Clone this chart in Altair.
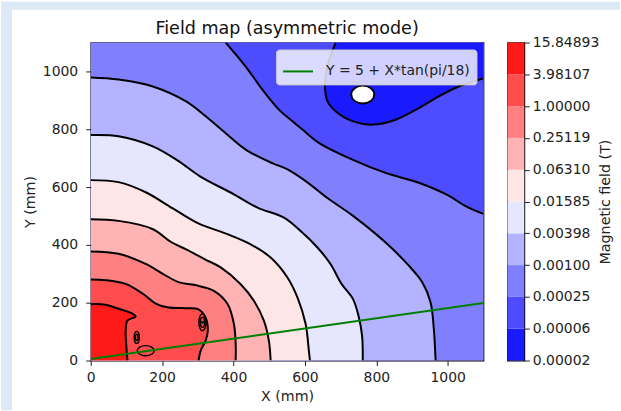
import json
import altair as alt
import pandas as pd

TITLE = "Field map (asymmetric mode)"
X_TITLE = "X (mm)"
Y_TITLE = "Y (mm)"
CB_TITLE = "Magnetic field (T)"
LINE_LABEL = "Y = 5 + X*tan(pi/18)"

x_domain = [0, 1100]
y_domain = [0, 1100]
x_ticks = [0, 200, 400, 600, 800, 1000]
y_ticks = [0, 200, 400, 600, 800, 1000]

level_labels = ["0.00002", "0.00006", "0.00025", "0.00100", "0.00398", "0.01585",
                "0.06310", "0.25119", "1.00000", "3.98107", "15.84893"]
band_colors = ["#1a1aff", "#4d4dff", "#8080ff", "#b3b3ff", "#e6e6ff",
               "#ffe6e6", "#ffb3b3", "#ff8080", "#ff4d4d", "#ff1a1a"]

# contour lines (mm), each from one plot edge to another
c1_x = [686, 668, 659, 656, 662, 686, 733, 789, 854, 919, 975, 1031, 1087, 1100]
c1_y = [1100, 1040, 995, 955, 900, 862, 828, 816, 833, 873, 914, 948, 971, 976]
c2_x = [378, 434, 481, 527, 560, 593, 639, 733, 826, 919, 1000, 1050, 1100]
c2_y = [1100, 1017, 937, 868, 833, 799, 753, 695, 649, 615, 572, 534, 507]
c3_x = [0, 78, 174, 266, 322, 378, 436, 510, 550, 605, 663, 733, 826, 891, 929, 952, 961, 966]
c3_y = [979, 972, 948, 897, 845, 786, 728, 682, 662, 618, 562, 502, 408, 328, 270, 201, 109, 0]
c4_x = [0, 78, 174, 246, 305, 401, 467, 541, 588, 635, 672, 702, 734, 750, 760, 762]
c4_y = [780, 776, 741, 690, 638, 575, 529, 494, 448, 391, 333, 266, 214, 155, 86, 0]
c5_x = [0, 78, 154, 230, 300, 383, 448, 504, 551, 579, 602, 611, 614]
c5_y = [624, 617, 582, 526, 475, 437, 402, 356, 287, 218, 126, 34, 0]
c6_x = [0, 78, 173, 225, 266, 320, 364, 420, 457, 485, 499, 504]
c6_y = [489, 483, 455, 410, 385, 350, 322, 264, 207, 138, 69, 0]
c7_x = [0, 78, 154, 202, 246, 292, 345, 383, 401, 406, 406]
c7_y = [377, 369, 334, 300, 271, 261, 241, 196, 127, 58, 0]
c8_x = [0, 42, 98, 146, 182, 218, 266, 302, 322, 328, 322, 308, 302]
c8_y = [280, 278, 265, 231, 197, 183, 181, 177, 148, 103, 69, 34, 0]
c9_x = [0, 42, 78, 117, 126, 103, 98, 100, 103]
c9_y = [195, 193, 179, 162, 152, 138, 103, 46, 0]

# the lowest band (around the minimum) read as left / right edges per height
c1_band_y = [816, 828, 862, 900, 955, 976, 995, 1040, 1100]
c1_band_left = [789, 733, 686, 662, 656, 657, 659, 668, 686]
c1_band_right = [789, 840, 905, 958, 1045, 1100, 1100, 1100, 1100]

# regions closed against the left edge (x = 0): (xs, ys, band index)
left_regions = [
    (c3_x, c3_y, 3), (c4_x, c4_y, 4), (c5_x, c5_y, 5), (c6_x, c6_y, 6),
    (c7_x, c7_y, 7), (c8_x, c8_y, 8), (c9_x, c9_y, 9),
]

hole_x = [762]
hole_y = [920]
loop_tall_x = [313]
loop_tall_y = [132]
loop_small_x = [129]
loop_small_y = [80]
loop_wide_x = [154]
loop_wide_y = [34]

line_x = [0, 1100]
line_y = [5, 199]

FONT = "DejaVu Sans"
W, H = 394, 319

xs = alt.Scale(domain=x_domain, nice=False, zero=False)
ys = alt.Scale(domain=y_domain, nice=False, zero=False)
x_axis = alt.Axis(values=x_ticks, title=X_TITLE, tickSize=5, labelPadding=5, titlePadding=5, format="d",
                  domain=False, grid=False, labelFlush=False, zindex=1)
y_axis = alt.Axis(values=y_ticks, title=Y_TITLE, tickSize=5, labelPadding=8, titlePadding=5, format="d",
                  domain=False, grid=False, labelFlush=False, zindex=1)

frame_df = pd.DataFrame({"x0": [x_domain[0]], "x1": [x_domain[1]], "y0": [y_domain[0]], "y1": [y_domain[1]]})
base_band = alt.Chart(frame_df).mark_rect(color=band_colors[2]).encode(
    x=alt.X("x0:Q", scale=xs, axis=x_axis), x2="x1:Q",
    y=alt.Y("y0:Q", scale=ys, axis=y_axis), y2="y1:Q")

layers = [base_band]

# band above c2 (closed against the top edge)
df2 = pd.DataFrame({"x": c2_x, "y": c2_y, "edge": [y_domain[1]] * len(c2_x)})
layers.append(alt.Chart(df2).mark_area(color=band_colors[1], interpolate="catmull-rom", clip=True,
                                       orient="vertical").encode(
    x=alt.X("x:Q", scale=xs), y=alt.Y("y:Q", scale=ys, stack=False), y2=alt.Y2("edge")))

# lowest band around the minimum
df1 = pd.DataFrame({"y": c1_band_y, "xl": c1_band_left, "xr": c1_band_right})
layers.append(alt.Chart(df1).mark_area(color=band_colors[0], interpolate="catmull-rom", clip=True,
                                       orient="horizontal").encode(
    y=alt.Y("y:Q", scale=ys), x=alt.X("xl:Q", scale=xs, stack=False), x2=alt.X2("xr")))

for cx, cy, band in left_regions:
    df = pd.DataFrame({"x": cx, "y": cy, "edge": [x_domain[0]] * len(cx)})
    layers.append(alt.Chart(df).mark_area(color=band_colors[band], interpolate="catmull-rom", clip=True,
                                          orient="horizontal").encode(
        y=alt.Y("y:Q", scale=ys), x=alt.X("x:Q", scale=xs, stack=False), x2=alt.X2("edge")))

line_rows = []
for k, (cx, cy) in enumerate([(c1_x, c1_y), (c2_x, c2_y), (c3_x, c3_y), (c4_x, c4_y), (c5_x, c5_y),
                              (c6_x, c6_y), (c7_x, c7_y), (c8_x, c8_y), (c9_x, c9_y)]):
    for i, (a, b) in enumerate(zip(cx, cy)):
        line_rows.append({"cid": k, "i": i, "x": a, "y": b})
lines_df = pd.DataFrame(line_rows)
layers.append(alt.Chart(lines_df).mark_line(color="black", strokeWidth=2, interpolate="catmull-rom", clip=True).encode(
    x=alt.X("x:Q", scale=xs), y=alt.Y("y:Q", scale=ys), detail="cid:N", order="i:Q"))

hole = alt.Chart(pd.DataFrame({"x": hole_x, "y": hole_y})).mark_point(
    shape="M-1,0 A1,0.78 0 1,1 1,0 A1,0.78 0 1,1 -1,0 Z", size=529, filled=True,
    fill="white", stroke="black", strokeWidth=1.8, opacity=1, fillOpacity=1).encode(
    x=alt.X("x:Q", scale=xs), y=alt.Y("y:Q", scale=ys))
layers.append(hole)

tall = "M0,-1 A0.42,1 0 1,1 0,1 A0.42,1 0 1,1 0,-1 Z"
wide = "M-1,0 A1,0.6 0 1,1 1,0 A1,0.6 0 1,1 -1,0 Z"
for lx, ly, sizes in [
    (loop_tall_x, loop_tall_y, [(289, tall), (100, tall), (8, "circle")]),
    (loop_small_x, loop_small_y, [(144, tall), (40, tall)]),
    (loop_wide_x, loop_wide_y, [(289, wide)]),
]:
    ldf = pd.DataFrame({"x": lx, "y": ly})
    for s, sh in sizes:
        if sh == "circle":
            m = alt.Chart(ldf).mark_point(shape="circle", size=s, filled=True, color="black", opacity=1)
        else:
            m = alt.Chart(ldf).mark_point(shape=sh, size=s, filled=False, stroke="black", strokeWidth=1.4, opacity=1)
        layers.append(m.encode(x=alt.X("x:Q", scale=xs), y=alt.Y("y:Q", scale=ys)))

gdf = pd.DataFrame({"x": line_x, "y": line_y, "name": [LINE_LABEL] * 2})
layers.append(alt.Chart(gdf).mark_line(strokeWidth=2, clip=True).encode(
    x=alt.X("x:Q", scale=xs), y=alt.Y("y:Q", scale=ys),
    color=alt.Color("name:N", scale=alt.Scale(domain=[LINE_LABEL], range=["#008000"]),
                    legend=alt.Legend(title=None, orient="top-right", offset=7, padding=6,
                                      fillColor="rgba(255,255,255,0.8)", strokeColor="#cccccc",
                                      cornerRadius=3, symbolType="stroke", symbolSize=900,
                                      symbolStrokeWidth=2, labelOffset=12, labelFontSize=14,
                                      labelFont=FONT, labelColor="#222222"))))

main = alt.layer(*layers).properties(
    width=W, height=H,
    title=alt.Title(TITLE, fontSize=17.6, font=FONT, fontWeight="normal", color="#111111", offset=5))

cb_df = pd.DataFrame({"lo": list(range(10)), "hi": list(range(1, 11)), "c": band_colors})
label_expr = json.dumps(level_labels) + "[datum.value]"
cb_bars = alt.Chart(cb_df).mark_rect().encode(
    y=alt.Y("lo:Q", scale=alt.Scale(domain=[0, 10], nice=False, zero=False),
            axis=alt.Axis(orient="right", values=list(range(11)), labelExpr=label_expr,
                          title=CB_TITLE, titleAngle=270, titlePadding=14, tickSize=5,
                          labelPadding=3, domain=False, grid=False, labelFlush=False, zindex=1)),
    y2="hi:Q",
    color=alt.Color("c:N", scale=None),
)
strip_df = pd.DataFrame({"k": [0]})
strip_top = alt.Chart(strip_df).mark_rect(color="#dbeaf6").encode(
    x=alt.value(-508), x2=alt.value(113), y=alt.value(-41), y2=alt.value(-33))
strip_left = alt.Chart(strip_df).mark_rect(color="#dbeaf6").encode(
    x=alt.value(-508), x2=alt.value(-497), y=alt.value(-41), y2=alt.value(369))
colorbar = alt.layer(cb_bars, strip_top, strip_left).properties(width=17, height=H)

chart = alt.hconcat(main, colorbar, spacing=24, bounds="flush").resolve_scale(
    color="independent").resolve_legend(color="independent").properties(
    padding={"left": 0, "top": 0, "right": 0, "bottom": 0}, background="white"
).configure(font=FONT).configure_view(stroke="black", strokeWidth=1.2).configure_axis(
    labelFont=FONT, titleFont=FONT, labelFontSize=14, titleFontSize=14.3,
    titleFontWeight="normal", labelColor="#222222", titleColor="#222222", tickColor="#222222",
    tickWidth=1)

chart.save("out.html", embed_options={"renderer": "svg", "actions": False})
